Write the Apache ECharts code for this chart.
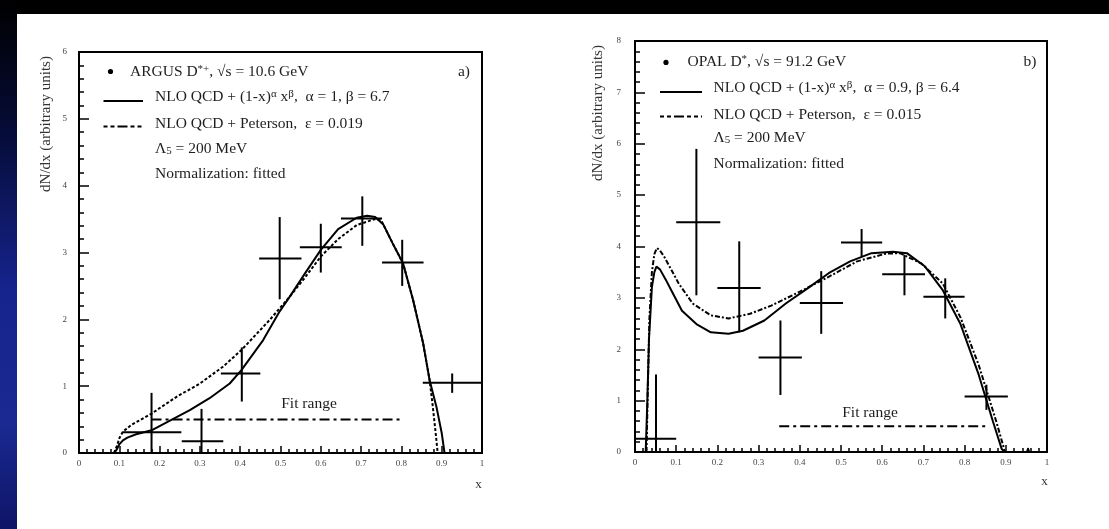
<!DOCTYPE html>
<html><head><meta charset="utf-8">
<script src="https://cdn.jsdelivr.net/npm/echarts@6/dist/echarts.min.js"></script>
<style>html,body{margin:0;padding:0;background:#fff;}#c{width:1109px;height:529px;}</style>
</head><body><div id="c"></div>
<script>
// ---------- data ----------
const xTickLabels = ['0','0.1','0.2','0.3','0.4','0.5','0.6','0.7','0.8','0.9','1'];
const yTickLabelsA = ['0','1','2','3','4','5','6'];
const yTickLabelsB = ['0','1','2','3','4','5','6','7','8'];

// ARGUS D*+ points: [x, y, xLow, xHigh, yLow, yHigh]
const argusPoints = [
  [0.180, 0.31, 0.108, 0.254, 0.00, 0.90],
  [0.304, 0.175, 0.255, 0.358, 0.00, 0.66],
  [0.404, 1.19, 0.352, 0.450, 0.77, 1.58],
  [0.498, 2.91, 0.447, 0.552, 2.30, 3.53],
  [0.600, 3.08, 0.548, 0.652, 2.70, 3.43],
  [0.703, 3.51, 0.650, 0.752, 3.10, 3.84],
  [0.802, 2.85, 0.752, 0.855, 2.50, 3.19],
  [0.926, 1.05, 0.853, 1.000, 0.90, 1.19]
];
const argusSolidX = [0.087,0.093,0.100,0.109,0.120,0.142,0.180,0.221,0.275,0.324,0.374,0.403,0.457,0.498,0.523,0.560,0.600,0.643,0.689,0.715,0.735,0.755,0.778,0.804,0.829,0.854,0.870,0.887,0.900,0.907];
const argusSolidY = [0.00,0.045,0.13,0.19,0.23,0.28,0.34,0.47,0.64,0.82,1.04,1.24,1.69,2.12,2.34,2.68,3.04,3.35,3.52,3.55,3.53,3.42,3.14,2.84,2.29,1.64,1.09,0.69,0.30,0.00];
const argusPetX = [0.087,0.095,0.100,0.109,0.130,0.180,0.242,0.300,0.357,0.403,0.473,0.523,0.560,0.600,0.643,0.689,0.734,0.750,0.778,0.804,0.829,0.854,0.870,0.878,0.885,0.890];
const argusPetY = [0.00,0.12,0.22,0.32,0.42,0.59,0.84,1.04,1.29,1.54,1.99,2.34,2.62,2.94,3.20,3.41,3.50,3.48,3.14,2.84,2.29,1.64,1.09,0.69,0.30,0.00];
const argusFitRange = [[0.18, 0.5], [0.80, 0.5]];

// OPAL D* points
const opalPoints = [
  [0.051, 0.26, 0.000, 0.100, 0.00, 1.51],
  [0.149, 4.47, 0.100, 0.207, 3.05, 5.90],
  [0.253, 3.19, 0.200, 0.305, 2.33, 4.10],
  [0.353, 1.84, 0.300, 0.405, 1.11, 2.56],
  [0.452, 2.90, 0.400, 0.505, 2.30, 3.52],
  [0.550, 4.08, 0.500, 0.600, 3.80, 4.34],
  [0.654, 3.46, 0.600, 0.704, 3.05, 3.84],
  [0.753, 3.02, 0.700, 0.800, 2.60, 3.38],
  [0.853, 1.08, 0.800, 0.905, 0.82, 1.31],
  [0.954, 0.03, 0.950, 0.958, 0.00, 0.08]
];
const opalSolidX = [0.026,0.030,0.034,0.041,0.047,0.052,0.061,0.075,0.088,0.114,0.149,0.184,0.227,0.262,0.314,0.366,0.418,0.470,0.522,0.574,0.626,0.660,0.704,0.747,0.790,0.834,0.869,0.890,0.898,0.950,1.000];
const opalSolidY = [0.00,1.00,2.20,3.21,3.50,3.61,3.55,3.35,3.15,2.75,2.49,2.33,2.30,2.36,2.56,2.89,3.18,3.48,3.71,3.87,3.90,3.87,3.61,3.15,2.49,1.51,0.59,0.06,0.00,0.00,0.00];
const opalPetX = [0.028,0.031,0.035,0.041,0.047,0.053,0.060,0.071,0.088,0.106,0.140,0.184,0.227,0.279,0.331,0.400,0.470,0.539,0.608,0.643,0.695,0.747,0.790,0.834,0.877,0.898,0.950,1.000];
const opalPetY = [0.00,1.20,2.60,3.50,3.85,3.97,3.93,3.80,3.55,3.28,2.89,2.66,2.60,2.69,2.85,3.12,3.41,3.71,3.86,3.87,3.67,3.28,2.62,1.70,0.59,0.00,0.00,0.00];
const opalFitRange = [[0.35, 0.5], [0.85, 0.5]];

// ---------- chart ----------
function zip(xs, ys) { return xs.map((x, i) => [x, ys[i]]); }
const FONT = 'Liberation Serif';
const TXT = '#1e1e1e';

function xAx(gi) {
  return {
    gridIndex: gi, type: 'value', min: 0, max: 1, interval: 0.1,
    axisLine: { show: true, onZero: false, lineStyle: { color: '#000', width: 2 } },
    axisTick: { show: true, inside: true, length: 7, lineStyle: { color: '#000', width: 1.5 } },
    minorTick: { show: true, splitNumber: 5, length: 4, lineStyle: { color: '#000', width: 1.5 } },
    splitLine: { show: false }, minorSplitLine: { show: false },
    axisLabel: { fontSize: 9, color: '#444', margin: 6, fontFamily: FONT,
      formatter: v => xTickLabels[Math.round(v * 10)] }
  };
}
function yAx(gi, max, labels, margin) {
  return {
    gridIndex: gi, type: 'value', min: 0, max: max, interval: 1,
    axisLine: { show: true, onZero: false, lineStyle: { color: '#000', width: 2 } },
    axisTick: { show: true, inside: true, length: 10, lineStyle: { color: '#000', width: 1.5 } },
    minorTick: { show: true, splitNumber: 5, length: 5, lineStyle: { color: '#000', width: 1.5 } },
    splitLine: { show: false }, minorSplitLine: { show: false },
    axisLabel: { fontSize: 9, color: '#444', margin: margin, fontFamily: FONT,
      formatter: v => labels[Math.round(v)] }
  };
}
function errRender(params, api) {
  const x = api.value(0), y = api.value(1);
  const pL = api.coord([api.value(2), y]), pR = api.coord([api.value(3), y]);
  const pB = api.coord([x, api.value(4)]), pT = api.coord([x, api.value(5)]);
  const st = { stroke: '#000', lineWidth: 2 };
  return { type: 'group', children: [
    { type: 'line', shape: { x1: pL[0], y1: pL[1], x2: pR[0], y2: pR[1] }, style: st },
    { type: 'line', shape: { x1: pB[0], y1: pB[1], x2: pT[0], y2: pT[1] }, style: st }
  ]};
}
function curve(gi, data, dash) {
  return { type: 'line', xAxisIndex: gi, yAxisIndex: gi, data: data, showSymbol: false,
    symbol: 'none', smooth: false, silent: true,
    lineStyle: { color: '#000', width: 2, type: dash || 'solid' } };
}
function points(gi, data) {
  return { type: 'custom', xAxisIndex: gi, yAxisIndex: gi, data: data,
    renderItem: errRender, encode: { x: 0, y: 1 }, silent: true, clip: false };
}

const rich = {
  t: { fontSize: 15.5, fontFamily: FONT, color: TXT },
  sup: { fontSize: 11, fontFamily: FONT, color: TXT, verticalAlign: 'top' },
  sub: { fontSize: 11, fontFamily: FONT, color: TXT, verticalAlign: 'bottom' }
};
function txt(x, y, text, align) {
  return { type: 'text', x: x, y: y, z: 10, silent: true,
    style: { text: text, rich: rich, fontSize: 15.5, fontFamily: FONT, fill: TXT,
      align: align || 'left', verticalAlign: 'middle' } };
}
function seg(x1, x2, y, dash) {
  return { type: 'line', z: 10, silent: true, shape: { x1: x1, y1: y, x2: x2, y2: y },
    style: { stroke: '#000', lineWidth: 2, lineDash: dash || null } };
}

const graphics = [
  { type: 'rect', z: 0, silent: true, shape: { x: 0, y: 0, width: 1109, height: 14 }, style: { fill: '#000' } },
  { type: 'rect', z: 0, silent: true, shape: { x: 0, y: 0, width: 17, height: 529 },
    style: { fill: new echarts.graphic.LinearGradient(0, 0, 0, 1, [
      { offset: 0, color: '#000000' }, { offset: 0.25, color: '#060c38' },
      { offset: 0.55, color: '#16248e' }, { offset: 0.8, color: '#1a2a92' }, { offset: 1, color: '#0e1466' }]) } },
  // panel a legend
  { type: 'circle', z: 10, silent: true, shape: { cx: 110.5, cy: 71.5, r: 2.6 }, style: { fill: '#000' } },
  txt(130, 71.5, '{t|ARGUS D}{sup|*+}{t|, √s = 10.6 GeV}'),
  seg(103.5, 143, 101),
  txt(155, 97, '{t|NLO QCD + (1-x)}{sup|α}{t| x}{sup|β}{t|,  α = 1, β = 6.7}'),
  seg(103.5, 143, 126.5, [4, 3, 4, 3, 10, 3]),
  txt(155, 124, '{t|NLO QCD + Peterson,  ε = 0.019}'),
  txt(155, 148.5, '{t|Λ}{sub|5}{t| = 200 MeV}'),
  txt(155, 174, '{t|Normalization: fitted}'),
  txt(464, 71.5, '{t|a)}', 'center'),
  txt(309, 404, '{t|Fit range}', 'center'),
  // panel b legend
  { type: 'circle', z: 10, silent: true, shape: { cx: 666, cy: 62.4, r: 2.6 }, style: { fill: '#000' } },
  txt(687.5, 62, '{t|OPAL D}{sup|*}{t|, √s = 91.2 GeV}'),
  seg(660, 702, 92),
  txt(713.5, 88, '{t|NLO QCD + (1-x)}{sup|α}{t| x}{sup|β}{t|,  α = 0.9, β = 6.4}'),
  seg(660, 702, 116.4, [4, 3, 4, 3, 10, 3]),
  txt(713.5, 114.7, '{t|NLO QCD + Peterson,  ε = 0.015}'),
  txt(713.5, 138, '{t|Λ}{sub|5}{t| = 200 MeV}'),
  txt(713.5, 164, '{t|Normalization: fitted}'),
  txt(1030, 62, '{t|b)}', 'center'),
  txt(870, 413, '{t|Fit range}', 'center'),
  // axis titles
  { type: 'text', z: 10, silent: true, x: 46, y: 124, rotation: Math.PI / 2,
    style: { text: 'dN/dx (arbitrary units)', fontSize: 15, fontFamily: FONT, fill: '#333', align: 'center', verticalAlign: 'middle' } },
  { type: 'text', z: 10, silent: true, x: 598, y: 113, rotation: Math.PI / 2,
    style: { text: 'dN/dx (arbitrary units)', fontSize: 15, fontFamily: FONT, fill: '#333', align: 'center', verticalAlign: 'middle' } },
  { type: 'text', z: 10, silent: true, x: 478.5, y: 485,
    style: { text: 'x', fontSize: 13, fontFamily: FONT, fill: '#333', align: 'center', verticalAlign: 'middle' } },
  { type: 'text', z: 10, silent: true, x: 1044.5, y: 482,
    style: { text: 'x', fontSize: 13, fontFamily: FONT, fill: '#333', align: 'center', verticalAlign: 'middle' } }
];

const chart = echarts.init(document.getElementById('c'), null, { renderer: 'canvas' });
chart.setOption({
  animation: false,
  backgroundColor: '#fff',
  grid: [
    { left: 79, top: 52, width: 403, height: 401, show: true, borderColor: '#000', borderWidth: 2, backgroundColor: 'transparent' },
    { left: 635, top: 41, width: 412, height: 411, show: true, borderColor: '#000', borderWidth: 2, backgroundColor: 'transparent' }
  ],
  xAxis: [xAx(0), xAx(1)],
  yAxis: [yAx(0, 6, yTickLabelsA, 12), yAx(1, 8, yTickLabelsB, 14)],
  graphic: graphics,
  series: [
    curve(0, zip(argusSolidX, argusSolidY)),
    curve(0, zip(argusPetX, argusPetY), [3, 2]),
    curve(0, argusFitRange, [10, 4, 3, 4]),
    points(0, argusPoints),
    curve(1, zip(opalSolidX, opalSolidY)),
    curve(1, zip(opalPetX, opalPetY), [5, 2, 2, 2]),
    curve(1, opalFitRange, [10, 4, 3, 4]),
    points(1, opalPoints)
  ]
});
</script></body></html>
